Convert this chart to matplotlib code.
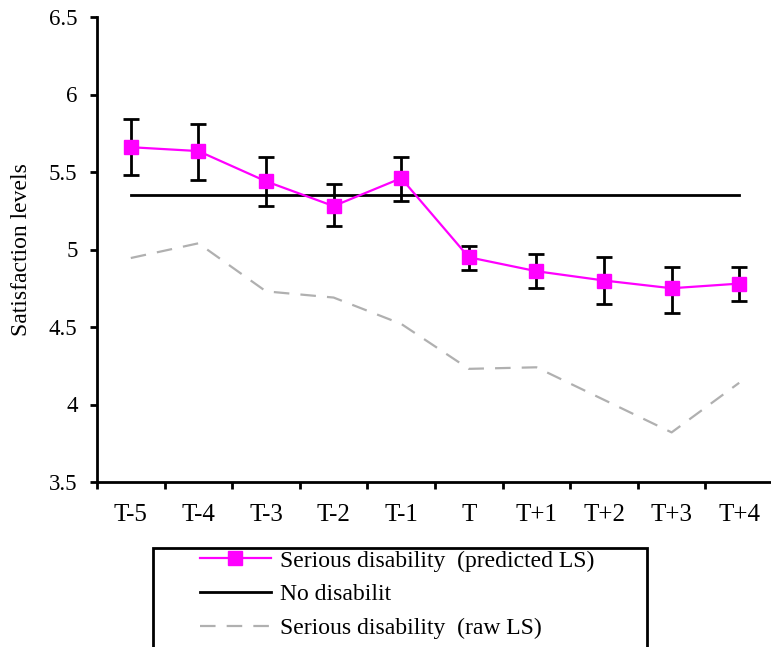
import matplotlib
matplotlib.use("Agg")
import matplotlib.pyplot as plt
from matplotlib.patches import Rectangle
import numpy as np

categories = ["T-5", "T-4", "T-3", "T-2", "T-1", "T", "T+1", "T+2", "T+3", "T+4"]
predicted = [5.66, 5.635, 5.44, 5.28, 5.46, 4.95, 4.86, 4.80, 4.75, 4.78]
err_upper = [5.84, 5.81, 5.60, 5.42, 5.60, 5.02, 4.97, 4.95, 4.89, 4.89]
err_lower = [5.48, 5.45, 5.28, 5.15, 5.31, 4.87, 4.75, 4.65, 4.59, 4.67]
no_disability = 5.35
raw = [4.945, 5.04, 4.73, 4.69, 4.52, 4.23, 4.24, 4.03, 3.82, 4.14]
yticks = [3.5, 4, 4.5, 5, 5.5, 6, 6.5]

plt.rcParams['font.family'] = ['Liberation Serif', 'DejaVu Serif']

W, H = 771, 647
fig = plt.figure(figsize=(W/100, H/100), dpi=100)
ax = fig.add_axes([97/W, 1 - 482/H, (773 - 97)/W, (482 - 17)/H])

x = np.arange(len(categories))
pred = np.array(predicted)
yerr = np.vstack([pred - np.array(err_lower), np.array(err_upper) - pred])

ax.errorbar(x, pred, yerr=yerr, fmt='none', ecolor='black', elinewidth=2,
            capsize=6, capthick=2, zorder=3)
ax.plot(x, pred, color='#ff00ff', lw=1.6, marker='s', markersize=10.5,
        markerfacecolor='#ff00ff', markeredgecolor='#ff00ff', zorder=4,
        label='Serious disability  (predicted LS)')
ax.plot([x[0], x[-1]], [no_disability, no_disability], color='black', lw=2,
        zorder=2, label='No disabilit')
ax.plot(x, raw, color='#b0b0b0', lw=1.6, dashes=(7, 5), zorder=2,
        label='Serious disability  (raw LS)')

ax.set_xlim(-0.5, 9.5)
ax.set_ylim(3.5, 6.5)
ax.set_yticks(yticks)
ax.set_yticklabels([f"{v:g}" for v in yticks], fontsize=16.5)
ax.set_xticks(x)
ax.set_xticklabels(categories, fontsize=18)
ax.set_xticks(np.arange(-0.5, 9.5, 1.0), minor=True)
ax.tick_params(axis='x', which='major', length=0, pad=16)
ax.tick_params(axis='x', which='minor', length=5, width=2, direction='out')
ax.tick_params(axis='y', length=5, width=2, direction='out', pad=9)
for s in ['top', 'right']:
    ax.spines[s].set_visible(False)
for s in ['left', 'bottom']:
    ax.spines[s].set_linewidth(2)
ax.set_ylabel('Satisfaction levels', fontsize=17, labelpad=12)

# legend box (extends past the bottom edge, as in the reference)
fig.patches.append(Rectangle((153/W, -0.05), (647 - 153)/W, (1 - 548/H) + 0.05,
                             transform=fig.transFigure, fill=False,
                             edgecolor='black', linewidth=2, zorder=5))
leg = ax.legend(loc='upper left',
                bbox_to_anchor=(200/W, 1 - 550/H),
                bbox_transform=fig.transFigure,
                frameon=False, fontsize=17, handlelength=3.0,
                labelspacing=0.52, borderpad=0.0, handletextpad=0.4,
                borderaxespad=0)

fig.savefig('out.png', dpi=100)
